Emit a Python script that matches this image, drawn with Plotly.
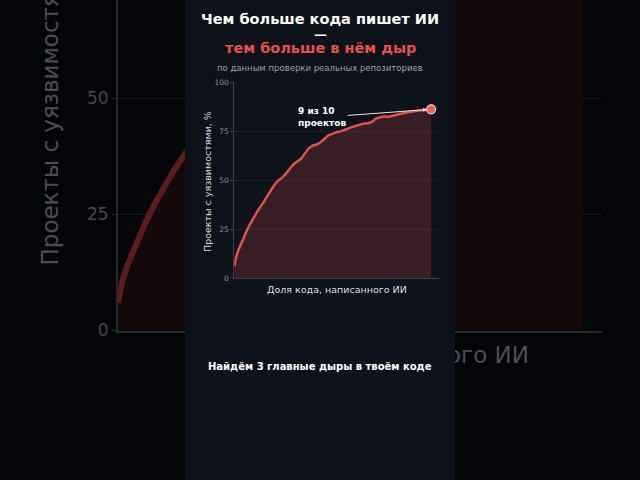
import plotly.graph_objects as go

# доля кода, написанного ИИ (%), и доля проектов с уязвимостями (%)
ai_share = [0, 1, 2, 4, 6, 8, 10, 12, 15, 18, 20, 22, 24, 26, 28, 30, 32, 34, 36, 38,
            40, 42, 44, 46, 48, 50, 52, 54, 56, 58, 60, 62, 64, 66, 68, 70, 72, 74, 76,
            78, 80, 82, 84, 86, 88, 90, 92, 94, 96, 98, 100]
vuln_share = [6, 11, 14, 19, 23.5, 27.5, 31, 34.5, 39, 44, 47, 49.5, 51, 53, 55.5, 58,
              59.5, 61, 63.8, 66.5, 67.7, 68.2, 69.5, 71.2, 73, 73.6, 74.6, 74.9, 75.8,
              76.6, 77.2, 77.8, 78.6, 79, 79.1, 79.8, 81.5, 82.2, 82.6, 82.3, 83, 83.3,
              83.8, 84.3, 84.6, 85, 85.3, 85.6, 85.9, 86, 86.2]
y_ticks = [0, 25, 50, 75, 100]

title_top = "Чем больше кода пишет ИИ"
title_red = "тем больше в нём дыр"
subtitle = "по данным проверки реальных репозиториев"
x_title = "Доля кода, написанного ИИ"
y_title = "Проекты с уязвимостями, %"
callout = "9 из 10<br>проектов"
footer = "Найдём 3 главные дыры в твоём коде"

FONT = "DejaVu Sans"
RED = "#e05252"
PAGE = "#040609"
PANEL = "#0e121a"

W, H = 640, 480


def px_y(y):
    return 1 - y / H


def label(text, y, size, color, x=0.5, angle=0):
    return dict(text=text, x=x, y=px_y(y), xref="paper", yref="paper",
                xanchor="center", yanchor="middle", showarrow=False,
                textangle=angle, font=dict(family=FONT, size=size, color=color))


fig = go.Figure()

# затемнённая увеличенная копия графика на фоне
fig.add_trace(go.Scatter(x=ai_share, y=vuln_share, mode="lines",
                         line=dict(color="#5a1c1d", width=6),
                         fill="tozeroy", fillcolor="#140a0b",
                         xaxis="x", yaxis="y", hoverinfo="skip"))
# подпись оси X фоновой копии (лежит под панелью)
fig.add_trace(go.Scatter(x=[52], y=[-5.8], mode="text", text=[x_title],
                         textfont=dict(family=FONT, size=23, color="#4b4e53"),
                         cliponaxis=False, xaxis="x2", yaxis="y2", hoverinfo="skip"))

# центральная панель
fig.add_trace(go.Scatter(x=[0, 1, 1, 0, 0], y=[0, 0, 1, 1, 0], mode="lines",
                         line=dict(width=0), fill="toself", fillcolor=PANEL,
                         xaxis="x3", yaxis="y3", hoverinfo="skip"))

# основной график
fig.add_trace(go.Scatter(x=ai_share, y=vuln_share, mode="lines",
                         line=dict(color=RED, width=2.5),
                         fill="tozeroy", fillcolor="rgba(224,82,82,0.2)",
                         xaxis="x4", yaxis="y4", hoverinfo="skip"))
fig.add_trace(go.Scatter(x=[ai_share[-1]], y=[vuln_share[-1]], mode="markers",
                         marker=dict(size=9, color="#f05a5a",
                                     line=dict(color="#ffd2d2", width=1.2)),
                         xaxis="x4", yaxis="y4", hoverinfo="skip"))

annotations = [
    label("<b>%s</b>" % title_top, 19, 14.5, "white"),
    label("<b>—</b>", 34.5, 13, "white"),
    label("<b>%s</b>" % title_red, 48, 14.5, RED),
    label(subtitle, 68, 8.5, "#9aa1aa"),
    label("<b>%s</b>" % footer, 366, 10, "white"),
    # подписи осей основного графика
    label(x_title, 289, 9.5, "#dcdee1", x=336.5 / W),
    label(y_title, 182, 9.5, "#d5d7da", x=207 / W, angle=-90),
    # подпись оси Y фоновой копии
    dict(text=y_title, x=49 / W, y=px_y(268), xref="paper", yref="paper",
         xanchor="center", yanchor="bottom", textangle=-90, showarrow=False,
         font=dict(family=FONT, size=23, color="#4b4e53")),
    # выноска
    dict(text="<b>%s</b>" % callout, x=ai_share[-1], y=vuln_share[-1],
         xref="x4", yref="y4", ax=-109, ay=8, align="left",
         font=dict(family=FONT, size=9, color="white"),
         showarrow=True, arrowhead=2, arrowsize=0.8, arrowwidth=1,
         arrowcolor="#e6e6e6", standoff=4),
]

hidden = dict(automargin=False, visible=False)

layout = go.Layout(
    width=W, height=H,
    margin=dict(l=0, r=0, t=0, b=0, autoexpand=False),
    paper_bgcolor=PAGE, plot_bgcolor="rgba(0,0,0,0)",
    showlegend=False, hovermode=False,
    font=dict(family=FONT),
    xaxis=dict(domain=[118 / W, 601.6 / W], range=[0, 104], anchor="y",
               automargin=False,
               showticklabels=False, showgrid=False, zeroline=False,
               showline=True, linecolor="#24272c", linewidth=2),
    yaxis=dict(domain=[px_y(330.5), 1], range=[0, 71.2], anchor="x",
               automargin=False,
               tickvals=y_ticks, tickfont=dict(size=17, color="#45484d"),
               gridcolor="#121519", zeroline=False, showline=True,
               linecolor="#24272c", linewidth=2, ticks="outside", ticklen=4,
               tickcolor="#24272c"),
    xaxis2=dict(domain=[118 / W, 601.6 / W], range=[0, 104], anchor="y2", **hidden),
    yaxis2=dict(domain=[px_y(400), px_y(330.5)], range=[-15, 0], anchor="x2", **hidden),
    xaxis3=dict(domain=[185 / W, 455 / W], range=[0, 1], anchor="y3", **hidden),
    yaxis3=dict(domain=[0, 1], range=[0, 1], anchor="x3", **hidden),
    xaxis4=dict(domain=[234.3 / W, 439 / W], range=[0, 104], anchor="y4",
                automargin=False,
                showticklabels=False, showgrid=False, zeroline=False,
                showline=True, linecolor="#3a404a"),
    yaxis4=dict(domain=[px_y(277.9), px_y(82.3)], range=[0, 100], anchor="x4",
                automargin=False,
                tickvals=y_ticks, tickfont=dict(size=7.5, color="#8b9098"),
                gridcolor="#1b212b", zeroline=False, showline=True,
                linecolor="#3a404a", ticks="outside", ticklen=3,
                tickcolor="#3a404a"),
    annotations=annotations,
)
fig.update_layout(layout)

# убираем стандартный отступ страницы, чтобы график занял всё окно
fig.write_html("out.html",
               config={"displayModeBar": False},
               post_script="document.body.style.margin='0';"
                           "document.body.style.overflow='hidden';")
